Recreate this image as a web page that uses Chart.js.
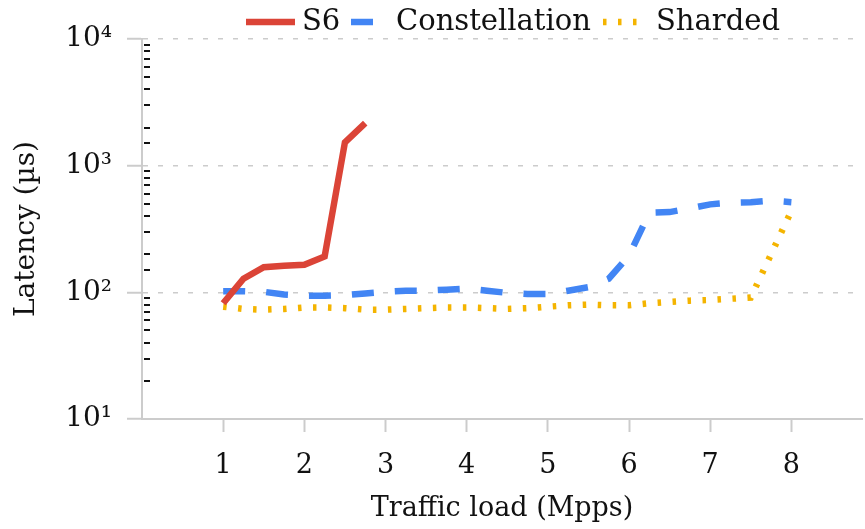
<!DOCTYPE html>
<html>
<head>
<meta charset="utf-8">
<script src="https://cdn.jsdelivr.net/npm/chart.js@4/dist/chart.umd.min.js"></script>
<style>
  html, body { margin: 0; padding: 0; background: #fff; }
  #wrap { width: 865px; height: 529px; position: relative; }
</style>
</head>
<body>
<div id="wrap"><canvas id="chart"></canvas></div>
<script>
// values
const s6Load = [1, 1.25, 1.5, 1.75, 2, 2.25, 2.5, 2.75];
const s6Latency = [82, 128, 158, 162, 165, 192, 1530, 2170];

const constLoad = [1, 1.25, 1.5, 1.75, 2, 2.25, 2.5, 2.75, 3, 3.25, 3.5, 3.75, 4, 4.25, 4.5,
  4.75, 5, 5.25, 5.5, 5.75, 6, 6.25, 6.5, 6.75, 7, 7.25, 7.5, 7.75, 8];
const constLatency = [102, 102, 101, 96, 94, 94, 95, 98, 101, 103, 103, 105, 107, 103, 99,
  97, 97, 103, 110, 128, 195, 425, 430, 460, 495, 510, 515, 530, 515];

const shardLoad = [1, 1.25, 1.5, 1.75, 2, 2.25, 2.5, 2.75, 3, 3.25, 3.5, 3.75, 4, 4.25, 4.5,
  4.75, 5, 5.25, 5.5, 5.75, 6, 6.25, 6.5, 6.75, 7, 7.25, 7.5, 7.75, 8];
const shardLatency = [77, 74, 73, 74, 76, 76, 75, 73, 73, 74, 75, 76, 76, 75, 74,
  75, 77, 79, 80, 79, 79, 82, 84, 86, 87, 89, 91, 200, 440];

const seriesNames = ['S6', 'Constellation', 'Sharded'];
const seriesColors = ['#db4437', '#4285f4', '#f4b400'];
const xTicks = [1, 2, 3, 4, 5, 6, 7, 8];
const yTicks = [10, 100, 1000, 10000];

const FONT = '"DejaVu Serif", serif';
const GRID = '#cccccc';
const sup = { 1: '\u00b9', 2: '\u00b2', 3: '\u00b3', 4: '\u2074' };

const pts = (xs, ys) => xs.map((x, i) => ({ x, y: ys[i] }));
const isMajor = v => Math.abs(Math.log10(v) - Math.round(Math.log10(v))) < 1e-9;

const dashes = [[], [22, 21], [3.5, 11.5]];

// legend drawn by hand so each swatch can have its own length
const legendPlugin = {
  id: 'topLegend',
  afterDraw(chart) {
    const { ctx } = chart;
    const y = 22;
    const items = [
      { x0: 246, x1: 295, tx: 302 },
      { x0: 351, x1: 374, tx: 396 },
      { x0: 603, x1: 638, tx: 656 }
    ];
    ctx.save();
    items.forEach((it, i) => {
      ctx.strokeStyle = seriesColors[i];
      ctx.lineWidth = 6.5;
      ctx.setLineDash(dashes[i]);
      ctx.beginPath();
      ctx.moveTo(it.x0, y);
      ctx.lineTo(it.x1, y);
      ctx.stroke();
      ctx.setLineDash([]);
      ctx.fillStyle = '#111';
      ctx.font = `29px ${FONT}`;
      ctx.textBaseline = 'middle';
      ctx.textAlign = 'left';
      ctx.fillText(seriesNames[i], it.tx, y);
    });
    ctx.restore();
  }
};

// small black minor ticks on the inside of the y axis
const minorTicks = {
  id: 'minorTicks',
  afterDatasetsDraw(chart) {
    const { ctx } = chart;
    const ys = chart.scales.y;
    const left = chart.chartArea.left;
    ctx.save();
    ctx.strokeStyle = '#111';
    ctx.lineWidth = 2;
    ys.ticks.forEach(t => {
      if (isMajor(t.value)) return;
      const py = Math.round(ys.getPixelForValue(t.value));
      ctx.beginPath();
      ctx.moveTo(left + 2, py);
      ctx.lineTo(left + 8, py);
      ctx.stroke();
    });
    ctx.restore();
  }
};

new Chart(document.getElementById('chart'), {
  type: 'line',
  data: {
    datasets: [
      { label: seriesNames[0], data: pts(s6Load, s6Latency) },
      { label: seriesNames[1], data: pts(constLoad, constLatency) },
      { label: seriesNames[2], data: pts(shardLoad, shardLatency) }
    ].map((d, i) => ({
      ...d,
      borderColor: seriesColors[i],
      backgroundColor: seriesColors[i],
      borderWidth: 6.5,
      borderDash: dashes[i],
      borderCapStyle: 'butt',
      borderJoinStyle: 'miter',
      pointRadius: 0,
      tension: 0,
      fill: false
    }))
  },
  options: {
    responsive: true,
    maintainAspectRatio: false,
    animation: false,
    layout: { padding: { top: 39, right: 3, left: 0, bottom: 0 } },
    plugins: { legend: { display: false }, tooltip: { enabled: false } },
    scales: {
      x: {
        type: 'linear',
        min: 0,
        max: 8.87,
        afterBuildTicks: s => { s.ticks = xTicks.map(v => ({ value: v })); },
        afterFit: s => { s.height = 110; },
        grid: {
          drawOnChartArea: false,
          tickLength: 13,
          tickColor: GRID,
          tickWidth: 2
        },
        border: { color: GRID, width: 2 },
        ticks: {
          color: '#111',
          padding: 18,
          font: { family: FONT, size: 27 },
          maxRotation: 0
        },
        title: {
          display: true,
          text: 'Traffic load (Mpps)',
          color: '#111',
          font: { family: FONT, size: 27 },
          padding: { top: 0, bottom: 4 }
        }
      },
      y: {
        type: 'logarithmic',
        min: 10,
        max: 10000,
        afterFit: s => { s.width = 142; },
        grid: {
          color: c => (c.tick && isMajor(c.tick.value) ? GRID : 'rgba(0,0,0,0)'),
          lineWidth: 1.5,
          tickLength: 15,
          tickColor: c => (c.tick && isMajor(c.tick.value) ? GRID : 'rgba(0,0,0,0)'),
          tickWidth: 2
        },
        border: { color: GRID, width: 2, dash: [5, 10] },
        ticks: {
          autoSkip: false,
          color: '#111',
          padding: 15,
          font: { family: FONT, size: 28 },
          callback: v => (yTicks.includes(v) ? '10' + sup[Math.round(Math.log10(v))] : '')
        },
        title: {
          display: true,
          text: 'Latency (\u00b5s)',
          color: '#111',
          font: { family: FONT, size: 28 },
          padding: { top: 10, bottom: 0 }
        }
      }
    }
  },
  plugins: [legendPlugin, minorTicks]
});
</script>
</body>
</html>
